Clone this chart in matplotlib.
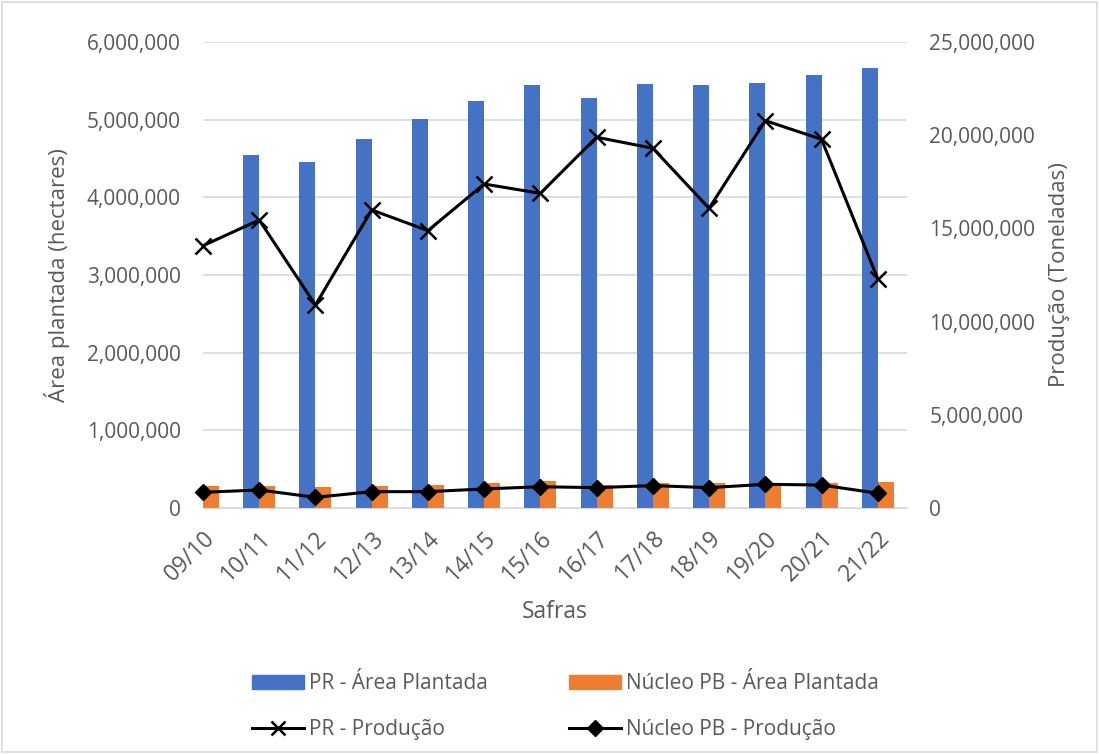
import numpy as np
import matplotlib.pyplot as plt
from matplotlib.lines import Line2D
from matplotlib.patches import Patch, Rectangle

safras = ["09/10", "10/11", "11/12", "12/13", "13/14", "14/15", "15/16",
          "16/17", "17/18", "18/19", "19/20", "20/21", "21/22"]

# área plantada (hectares)
pr_area = [np.nan, 4550000, 4450000, 4750000, 5010000, 5235000, 5445000,
           5280000, 5460000, 5445000, 5470000, 5580000, 5660000]
pb_area = [283000, 283000, 266000, 283000, 300000, 326000, 352000,
           296000, 322000, 322000, 305000, 322000, 335000]

# produção (toneladas)
pr_prod = [14070000, 15450000, 10890000, 15990000, 14880000, 17380000, 16880000,
           19890000, 19300000, 16080000, 20780000, 19780000, 12290000]
pb_prod = [840000, 966000, 570000, 875000, 875000, 1020000, 1140000,
           1090000, 1200000, 1090000, 1270000, 1230000, 790000]

azul = "#4472C4"
laranja = "#ED7D31"
cinza = "#595959"

plt.rcParams["font.family"] = ["Open Sans", "DejaVu Sans"]

fig = plt.figure(figsize=(10.99, 7.54), dpi=100)
ax = fig.add_axes([0.1847, 0.3263, 0.8253 - 0.1847, 0.9443 - 0.3263])
ax2 = ax.twinx()

x = np.arange(len(safras))
w = 0.285
ax.bar(x - w / 2, pr_area, w, color=azul, zorder=2)
ax.bar(x + w / 2, pb_area, w, color=laranja, zorder=2)

ax.set_xlim(0, 12.52)
ax.set_ylim(0, 6000000)
ax.set_yticks(np.arange(0, 6000001, 1000000))
ax.set_yticklabels([f"{v:,}" for v in range(0, 6000001, 1000000)])
ax.grid(axis="y", color="#D9D9D9", linewidth=1.2, zorder=0)
ax.set_axisbelow(True)

ax2.plot(x, pr_prod, color="black", linewidth=2.2, marker="x",
         markersize=11, markeredgewidth=1.8, zorder=3, clip_on=False)
ax2.plot(x, pb_prod, color="black", linewidth=2.2, marker="D",
         markersize=8, zorder=3, clip_on=False)
ax2.set_ylim(0, 25000000)
ax2.set_yticks(np.arange(0, 25000001, 5000000))
ax2.set_yticklabels([f"{v:,}" for v in range(0, 25000001, 5000000)])

ax.set_xticks(x)
ax.set_xticklabels(safras, rotation=45, ha="right", rotation_mode="anchor")

for a in (ax, ax2):
    for s in ("top", "left", "right", "bottom"):
        a.spines[s].set_visible(False)
    a.tick_params(length=0, labelsize=15, colors=cinza, pad=16)
ax.spines["bottom"].set_visible(True)
ax.spines["bottom"].set_color("#D9D9D9")
ax.tick_params(axis="x", pad=13, labelsize=16.5)

ax.set_ylabel("Área plantada (hectares)", fontsize=16, color=cinza, labelpad=12)
ax2.set_ylabel("Produção (Toneladas)", fontsize=16, color=cinza, labelpad=10)
ax.set_xlabel("Safras", fontsize=16.5, color=cinza, labelpad=10)

# ordem das entradas para preencher por linha com ncol=2
handles = [
    Patch(color=azul, label="PR - Área Plantada"),
    Line2D([], [], color="black", linewidth=2.2, marker="x", markersize=10,
           markeredgewidth=1.8, label="PR - Produção"),
    Patch(color=laranja, label="Núcleo PB - Área Plantada"),
    Line2D([], [], color="black", linewidth=2.2, marker="D", markersize=8,
           label="Núcleo PB - Produção"),
]
leg = fig.legend(handles=handles, ncol=2, loc="center", bbox_to_anchor=(0.5146, 0.063),
                 frameon=False, fontsize=15, handlelength=2.48, handleheight=0.67,
                 columnspacing=3.9, labelspacing=1.2, handletextpad=0.24)
for t in leg.get_texts():
    t.set_color(cinza)

fig.patches.append(Rectangle((0.002, 0.002), 0.996, 0.996, transform=fig.transFigure,
                             fill=False, edgecolor="#D9D9D9", linewidth=1.2))

fig.savefig("out.png", dpi=100)
